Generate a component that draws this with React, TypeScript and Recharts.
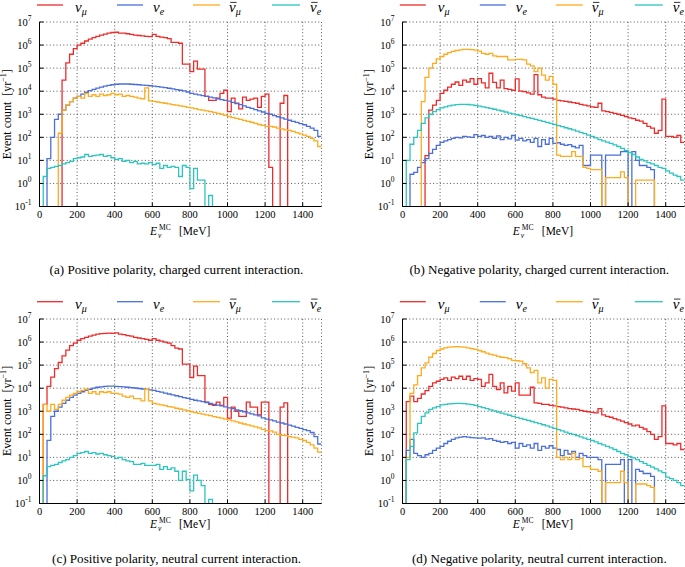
import React from 'react';
import { LineChart, Line, XAxis, YAxis, CartesianGrid } from 'recharts';

// Bin edges (MeV), 20 MeV bins from 0 to 1500
const BIN_EDGES = [
  0, 20, 40, 60, 80, 100, 120, 140, 160, 180, 200, 220, 240, 260, 280, 300, 320, 340, 360, 380,
  400, 420, 440, 460, 480, 500, 520, 540, 560, 580, 600, 620, 640, 660, 680, 700, 720, 740, 760, 780,
  800, 820, 840, 860, 880, 900, 920, 940, 960, 980, 1000, 1020, 1040, 1060, 1080, 1100, 1120, 1140, 1160, 1180,
  1200, 1220, 1240, 1260, 1280, 1300, 1320, 1340, 1360, 1380, 1400, 1420, 1440, 1460, 1480, 1500,
];
const X_TICKS = [0, 200, 400, 600, 800, 1000, 1200, 1400];
const Y_TICKS = [0.1, 1, 10, 100, 1e3, 1e4, 1e5, 1e6, 1e7];

// (a) Positive polarity, CC
const A_NU_MU = [
  0, 0, 0, 0, 0, 0, 3e4, 1.7e5, 4e5, 7e5,
  1e6, 1.2e6, 1.5e6, 1.8e6, 2.1e6, 2.4e6, 2.7e6, 3e6, 3.3e6, 3.5e6,
  3.6e6, 3.3e6, 3.3e6, 3.1e6, 2.9e6, 2.7e6, 2.6e6, 2.5e6, 2.4e6, 2.3e6,
  2.9e6, 2.4e6, 2.2e6, 2.1e6, 1.9e6, 1.3e6, 1.3e6, 1.2e6, 1.5e5, 1.5e5,
  7e4, 2e5, 9e4, 9e4, 6e3, 4e3, 4e3, 5e3, 8e3, 1.1e4,
  1.3e3, 5e3, 3e3, 1.7e3, 5.5e3, 4e3, 4.5e3, 5e3, 2e3, 6e3,
  7.5e3, 5, 0, 0, 3e3, 6.5e3, 0, 0, 0, 0,
  0, 0, 0, 0, 0,
];
const A_NU_E = [
  0, 0, 12, 100, 600, 1e3, 1.5e3, 2.5e3, 3.5e3, 5e3,
  6e3, 7.5e3, 9e3, 1.05e4, 1.2e4, 1.35e4, 1.5e4, 1.65e4, 1.8e4, 1.9e4,
  2e4, 2.05e4, 2.05e4, 2.05e4, 2e4, 1.95e4, 1.9e4, 1.85e4, 1.8e4, 1.72e4,
  1.65e4, 1.57e4, 1.5e4, 1.42e4, 1.34e4, 1.26e4, 1.18e4, 1.1e4, 1.03e4, 9.2e3,
  8e3, 7.4e3, 6.9e3, 6.4e3, 5.9e3, 5.5e3, 5.1e3, 4.7e3, 4.3e3, 4e3,
  3.7e3, 3.3e3, 2.9e3, 2.6e3, 2.3e3, 2e3, 1.8e3, 1.6e3, 1.4e3, 1.25e3,
  1.1e3, 1e3, 880, 780, 700, 620, 550, 490, 440, 390,
  350, 300, 250, 200, 110,
];
const A_NU_MU_BAR = [
  0, 0, 0, 0, 0, 150, 1.5e3, 2.5e3, 3.5e3, 5e3,
  6e3, 5e3, 8e3, 6e3, 7e3, 6e3, 7.5e3, 6.5e3, 7e3, 8e3,
  7e3, 7.5e3, 6e3, 6.5e3, 6e3, 5.5e3, 5e3, 4.7e3, 1.4e4, 3.8e3,
  3.6e3, 3.4e3, 3.2e3, 3e3, 2.8e3, 2.6e3, 2.5e3, 2.3e3, 2.2e3, 2e3,
  1.9e3, 1.75e3, 1.6e3, 1.5e3, 1.4e3, 1.3e3, 1.2e3, 1.1e3, 1e3, 900,
  800, 720, 660, 600, 540, 490, 450, 400, 360, 330,
  300, 300, 280, 250, 230, 210, 200, 180, 160, 140,
  125, 110, 90, 70, 40,
];
const A_NU_E_BAR = [
  0, 2, 4.5, 5, 5.5, 6, 7, 8, 9, 12,
  13, 14, 18, 15, 16, 17, 18, 15, 16, 13,
  11, 12, 9, 10, 8, 9, 7, 7.5, 7, 8,
  6.5, 7.5, 4.5, 6, 5, 5.5, 5, 2, 6, 5,
  0.6, 4.5, 1.4, 1.4, 0, 0.3, 0, 0, 0, 0,
  0, 0, 0, 0, 0, 0, 0, 0, 0, 0,
  0, 0, 0, 0, 0, 0, 0, 0, 0, 0,
  0, 0, 0, 0, 0,
];

// (b) Negative polarity, CC
const B_NU_MU = [
  0, 0, 0, 0, 0, 0, 16, 1.5e3, 2.5e3, 4e3,
  8e3, 1.1e4, 1.5e4, 2e4, 2.5e4, 1.8e4, 3e4, 2.5e4, 3.5e4, 2e4,
  3.5e4, 2.3e4, 1.4e4, 6e4, 2.4e4, 1.4e4, 3e4, 1.3e4, 1.2e4, 1.1e4,
  3.4e4, 1e4, 9.5e3, 8.5e3, 7.5e3, 5.2e4, 7e3, 5.5e3, 5e3, 5e3,
  4.5e3, 4e3, 3.8e3, 3.6e3, 3.4e3, 3.2e3, 3e3, 2.7e3, 2.5e3, 2.3e3,
  2.1e3, 2e3, 3e3, 1.4e3, 1.3e3, 1.2e3, 1.1e3, 1e3, 900, 800,
  700, 650, 550, 500, 400, 300, 250, 150, 200, 4.5e3,
  110, 110, 100, 120, 60,
];
const B_NU_E = [
  0, 0, 2.5, 3, 5, 8, 12, 20, 30, 45,
  60, 70, 80, 90, 100, 95, 110, 105, 100, 130,
  110, 120, 100, 110, 90, 115, 80, 100, 85, 120,
  75, 90, 70, 80, 60, 90, 40, 80, 50, 90,
  55, 58, 50, 45, 48, 40, 35, 45, 6, 6,
  17, 17, 17, 0, 17, 17, 17, 17, 24, 24,
  0, 24, 10, 6, 6, 5, 4, 0, 0, 0,
  0, 0, 0, 0, 0,
];
const B_NU_MU_BAR = [
  0, 0, 0, 0, 0, 3.5e3, 4e4, 1e5, 1.6e5, 2.5e5,
  3.2e5, 4e5, 4.7e5, 5.3e5, 5.8e5, 6.2e5, 6.5e5, 6.5e5, 6.3e5, 6e5,
  5.5e5, 4.4e5, 4e5, 4.4e5, 3.4e5, 3.2e5, 3.2e5, 3.2e5, 2.3e5, 2.3e5,
  2.4e5, 2.4e5, 2.3e5, 1.5e5, 1.25e5, 7e4, 1e5, 5e4, 3e4, 4.4e4,
  2e4, 17, 15, 15, 15, 24, 15, 15, 5, 4.5,
  4, 4, 4, 0, 1.8, 1.8, 1.8, 1.8, 3.2, 1.8,
  0, 0, 1.4, 1.4, 1.4, 1.4, 1.4, 0, 0, 0,
  0, 0, 0, 0, 0,
];
const B_NU_E_BAR = [
  0, 10, 50, 100, 200, 400, 700, 1e3, 1.3e3, 1.6e3,
  1.9e3, 2.1e3, 2.3e3, 2.5e3, 2.6e3, 2.7e3, 2.7e3, 2.65e3, 2.55e3, 2.4e3,
  2.25e3, 2.1e3, 1.95e3, 1.8e3, 1.65e3, 1.5e3, 1.38e3, 1.25e3, 1.13e3, 1.03e3,
  950, 870, 790, 720, 660, 600, 540, 490, 440, 400,
  360, 320, 290, 260, 235, 210, 185, 165, 145, 125,
  110, 95, 80, 70, 62, 55, 47, 40, 33, 27,
  22, 18, 14, 11, 9.5, 8, 7, 6, 5, 4.5,
  3.5, 2.8, 2.3, 2, 1.4,
];

// (c) Positive polarity, NC
const C_NU_MU = [
  0, 2e3, 1.2e4, 3e4, 7e4, 1.3e5, 2.5e5, 4.5e5, 7e5, 9e5,
  1.2e6, 1.4e6, 1.6e6, 1.8e6, 2e6, 2.2e6, 2.3e6, 2.4e6, 2.45e6, 2.4e6,
  2.5e6, 2.2e6, 2.1e6, 1.9e6, 1.8e6, 1.6e6, 1.5e6, 1.4e6, 1.3e6, 1.2e6,
  1.4e6, 1.2e6, 1.1e6, 1e6, 9e5, 7e5, 5.5e5, 5e5, 1.1e5, 1.1e5,
  2.9e4, 9e4, 3.5e4, 3.5e4, 2.5e3, 2e3, 1.8e3, 2.5e3, 1.8e3, 4e3,
  500, 1.5e3, 1e3, 600, 600, 2.5e3, 1.5e3, 1.5e3, 700, 2.5e3,
  2.5e3, 0, 0, 0, 1.5e3, 2.3e3, 0, 0, 0, 0,
  0, 0, 0, 0, 0,
];
const C_NU_E = [
  0, 0, 55, 600, 1e3, 1.5e3, 2.2e3, 3e3, 4e3, 5e3,
  6e3, 7e3, 8e3, 9e3, 1e4, 1.1e4, 1.15e4, 1.2e4, 1.22e4, 1.22e4,
  1.2e4, 1.18e4, 1.15e4, 1.1e4, 1.06e4, 1.02e4, 9.7e3, 9.2e3, 8.8e3, 8.4e3,
  8e3, 7.3e3, 6.7e3, 6.1e3, 5.6e3, 5.1e3, 4.7e3, 4.3e3, 3.9e3, 3.6e3,
  3.3e3, 3e3, 2.8e3, 2.6e3, 2.4e3, 2.2e3, 2e3, 1.85e3, 1.7e3, 1.55e3,
  1.4e3, 1.3e3, 1.15e3, 1.05e3, 950, 850, 770, 700, 630, 520,
  460, 420, 380, 340, 310, 280, 250, 225, 200, 180,
  160, 145, 120, 80, 38,
];
const C_NU_MU_BAR = [
  0, 2e3, 1e3, 2e3, 1.2e3, 2e3, 3e3, 4e3, 5e3, 6e3,
  7e3, 8e3, 9e3, 6e3, 7e3, 5.5e3, 7e3, 6.5e3, 7e3, 6e3,
  6e3, 5.5e3, 4.5e3, 4e3, 4.5e3, 3.5e3, 3.5e3, 2.8e3, 9e3, 2.8e3,
  2.2e3, 2.05e3, 1.9e3, 1.75e3, 1.6e3, 1.5e3, 1.35e3, 1.25e3, 1.15e3, 1.05e3,
  950, 880, 810, 750, 690, 640, 590, 540, 500, 460,
  420, 380, 345, 310, 280, 255, 230, 210, 190, 165,
  145, 140, 125, 100, 90, 87, 80, 75, 70, 60,
  54, 45, 35, 25, 17,
];
const C_NU_E_BAR = [
  0, 1.6, 4, 4.5, 5, 6, 7, 8, 10, 12,
  15, 16, 18, 15, 16, 14, 15, 13, 12, 11,
  9, 10, 8, 7, 6.5, 5, 5, 5.5, 4.5, 4.5,
  4.5, 5, 3, 4, 3, 3.5, 2.5, 1, 2.5, 1.1,
  0.35, 1.7, 1, 0.6, 0, 0.15, 0, 0, 0, 0,
  0, 0, 0, 0, 0, 0, 0, 0, 0, 0,
  0, 0, 0, 0, 0, 0, 0, 0, 0, 0,
  0, 0, 0, 0, 0,
];

// (d) Negative polarity, NC
const D_NU_MU = [
  0, 2.6e3, 4.5e3, 2.6e3, 3.6e3, 5.6e3, 7.9e3, 1.2e4, 1.7e4, 2e4,
  2.4e4, 2.8e4, 2.2e4, 3e4, 2.6e4, 3.3e4, 2.4e4, 3.3e4, 2.2e4, 2.6e4,
  2.4e4, 1.2e4, 1.7e4, 4e4, 1.2e4, 8.7e3, 1.7e4, 6.3e3, 1.2e4, 7.4e3,
  1.7e4, 5e3, 5e3, 5e3, 1.1e4, 2.3e3, 2.2e3, 2e3, 2e3, 1.8e3,
  1.7e3, 1.6e3, 1.5e3, 1.4e3, 1.3e3, 1.25e3, 1.2e3, 1.1e3, 1e3, 950,
  900, 850, 1.3e3, 700, 600, 550, 480, 420, 370, 320,
  280, 230, 250, 200, 170, 130, 100, 60, 80, 1.7e3,
  40, 40, 35, 40, 22,
];
const D_NU_E = [
  0, 20, 60, 15, 12, 10, 13, 15, 20, 25,
  30, 40, 50, 60, 70, 75, 80, 75, 72, 70,
  68, 70, 62, 65, 55, 50, 45, 48, 40, 45,
  25, 40, 30, 35, 25, 40, 20, 30, 25, 32,
  25, 22, 12, 20, 14, 18, 10, 15, 12, 10,
  10, 10, 8, 0, 5, 5, 5, 5, 8, 0,
  8, 0, 3, 2.5, 2, 2, 1.5, 0, 0, 0,
  0, 0, 0, 0, 0,
];
const D_NU_MU_BAR = [
  0, 10, 6e3, 1.4e4, 3.5e4, 7.6e4, 1.26e5, 2.2e5, 3.2e5, 4.3e5,
  5e5, 5.6e5, 6e5, 6.2e5, 6.3e5, 6.2e5, 6e5, 5.6e5, 5.2e5, 4.8e5,
  4.3e5, 3.8e5, 3.3e5, 2.9e5, 2.7e5, 2.4e5, 2.2e5, 2.1e5, 1.9e5, 1.6e5,
  1.55e5, 1.5e5, 1.15e5, 7.6e4, 4.7e4, 5.9e4, 1.7e4, 2.8e4, 1e4, 2.4e4,
  2.2e4, 10, 8, 10, 8, 15, 8, 9, 4, 4,
  3, 3, 2.5, 0, 0.8, 0.8, 0.8, 0.8, 2.5, 0.8,
  0, 0, 0.7, 0.7, 0.7, 0.6, 0.5, 0, 0, 0,
  0, 0, 0, 0, 0,
];
const D_NU_E_BAR = [
  0, 8, 30, 115, 300, 600, 850, 1.2e3, 1.4e3, 1.6e3,
  1.9e3, 2e3, 2.1e3, 2.15e3, 2.2e3, 2.2e3, 2.15e3, 2.05e3, 1.95e3, 1.8e3,
  1.6e3, 1.45e3, 1.3e3, 1.15e3, 1.03e3, 930, 830, 750, 670, 600,
  540, 490, 440, 400, 360, 320, 290, 260, 230, 205,
  180, 160, 140, 125, 110, 100, 88, 78, 68, 60,
  54, 47, 40, 35, 30, 26, 22, 18, 15, 13,
  11, 9.5, 8, 6.5, 5.5, 4.5, 3.8, 3.2, 2.6, 2.2,
  1.4, 1.2, 1, 0.8, 0.6,
];

const CAPTIONS = [
  '(a) Positive polarity, charged current interaction.',
  '(b) Negative polarity, charged current interaction.',
  '(c) Positive polarity, neutral current interaction.',
  '(d) Negative polarity, neutral current interaction.',
];

const COLORS = ['#ee2b2b', '#4a6fdc', '#ffab1e', '#2cc5bf'];
const FONT = '"Liberation Serif", "DejaVu Serif", serif';
const FLOOR = 1e-3; // empty bins are drawn below the axis floor and clipped

function buildRows(series: number[][]) {
  return BIN_EDGES.map((x, i) => {
    const row: Record<string, number> = { x };
    series.forEach((s, k) => {
      const v = i < s.length ? s[i] : s[s.length - 1];
      row['s' + k] = v > 0 ? v : FLOOR;
    });
    return row;
  });
}

const YTick = (props: any) => {
  const { x, y, payload } = props;
  const e = Math.round(Math.log10(payload.value));
  return (
    <text x={x} y={y} textAnchor="end" fontFamily={FONT} fontSize={10.5} fill="#000">
      <tspan dy="0.36em">10</tspan>
      <tspan dy={-5} fontSize={7.5}>{String(e)}</tspan>
    </text>
  );
};

const PLOT_LEFT = 39.5;
const PLOT_TOP = 22;

function Panel({ left, top, series }: { left: number; top: number; series: number[][] }) {
  const rows = buildRows(series);
  return (
    <div style={{ position: 'absolute', left, top }}>
      <LineChart width={330} height={240} data={rows} margin={{ top: PLOT_TOP, right: 8.5, bottom: 3.5, left: 0 }}>
        <CartesianGrid stroke="#444" strokeDasharray="1 2.4" strokeWidth={0.9} />
        <XAxis
          dataKey="x"
          type="number"
          domain={[0, 1500]}
          ticks={X_TICKS}
          interval={0}
          allowDataOverflow
          height={30}
          stroke="#000"
          tickSize={-4}
          tickMargin={8.5}
          tick={{ fontFamily: FONT, fontSize: 10.5, fill: '#000' }}
        />
        <XAxis
          xAxisId="top"
          orientation="top"
          dataKey="x"
          type="number"
          domain={[0, 1500]}
          ticks={X_TICKS}
          interval={0}
          height={0}
          stroke="#000"
          tickSize={-4}
          tick={false}
        />
        <YAxis
          scale="log"
          domain={[0.1, 1e7]}
          ticks={Y_TICKS}
          interval={0}
          allowDataOverflow
          width={PLOT_LEFT}
          stroke="#000"
          tickSize={-4}
          tickMargin={12}
          tick={<YTick />}
        />
        <YAxis
          yAxisId="right"
          orientation="right"
          scale="log"
          domain={[0.1, 1e7]}
          ticks={Y_TICKS}
          interval={0}
          allowDataOverflow
          width={0}
          stroke="#000"
          tickSize={-4}
          tick={false}
        />
        {series.map((_, k) => (
          <Line
            key={k}
            dataKey={'s' + k}
            type="stepAfter"
            stroke={COLORS[k]}
            strokeWidth={1.3}
            dot={false}
            activeDot={false}
            isAnimationActive={false}
          />
        ))}
      </LineChart>
    </div>
  );
}

function NuLabel({ x, y, sub, bar }: { x: number; y: number; sub: string; bar: boolean }) {
  return (
    <g>
      <text x={x} y={y} fontFamily={FONT} fontStyle="italic" fontSize={15} fill="#000">
        ν<tspan dy={3} fontSize={10}>{sub}</tspan>
      </text>
      {bar && <line x1={x + 1.2} x2={x + 7.6} y1={y - 9.4} y2={y - 9.4} stroke="#000" strokeWidth={0.8} />}
    </g>
  );
}

const LEGEND_ITEMS = [
  { x1: 37, x2: 63, lx: 75, sub: 'μ', bar: false },
  { x1: 117, x2: 143, lx: 153, sub: 'e', bar: false },
  { x1: 193, x2: 220, lx: 229, sub: 'μ', bar: true },
  { x1: 272, x2: 300, lx: 310, sub: 'e', bar: true },
];

function Decorations({ dx, dy, caption, captionY }: { dx: number; dy: number; caption: string; captionY: number }) {
  const lineY = 5 + dy;
  const plotCenterY = PLOT_TOP + dy + 92.25;
  const plotCenterX = PLOT_LEFT + dx + 141;
  const xlabY = 235 + dy - (dy > 0 ? 3.5 : 0);
  return (
    <g>
      {LEGEND_ITEMS.map((it, k) => (
        <g key={k}>
          <line x1={it.x1 + dx} x2={it.x2 + dx} y1={lineY} y2={lineY} stroke={COLORS[k]} strokeWidth={1.3} />
          <NuLabel x={it.lx + dx} y={lineY + 6.8} sub={it.sub} bar={it.bar} />
        </g>
      ))}
      <text
        transform={`translate(${10.5 + dx},${plotCenterY}) rotate(-90)`}
        textAnchor="middle"
        fontFamily={FONT}
        fontSize={12}
        fill="#000"
      >
        Event count{'\u00a0\u00a0'}[yr<tspan dy={-4.5} fontSize={8}>−1</tspan>
        <tspan dy={4.5}>]</tspan>
      </text>
      <text x={plotCenterX - 30.5} y={xlabY} fontFamily={FONT} fontStyle="italic" fontSize={11.5} fill="#000">E</text>
      <text x={plotCenterX - 22.5} y={xlabY + 2.8} fontFamily={FONT} fontStyle="italic" fontSize={7.5} fill="#000">ν</text>
      <text x={plotCenterX - 21.5} y={xlabY - 5} fontFamily={FONT} fontSize={7.5} fill="#000">MC</text>
      <text x={plotCenterX - 1.5} y={xlabY} fontFamily={FONT} fontSize={11.5} fill="#000">[MeV]</text>
      <text x={plotCenterX - 4} y={captionY} textAnchor="middle" fontFamily={FONT} fontSize={13.1} fill="#000">
        {caption}
      </text>
    </g>
  );
}

export default function App() {
  const DX = 362.8;
  const DY = 297.3;
  return (
    <div
      style={{
        position: 'absolute',
        left: 0,
        top: 0,
        width: 685,
        height: 567,
        overflow: 'hidden',
        background: '#fff',
      }}
    >
      <Panel left={0} top={0} series={[A_NU_MU, A_NU_E, A_NU_MU_BAR, A_NU_E_BAR]} />
      <Panel left={DX} top={0} series={[B_NU_MU, B_NU_E, B_NU_MU_BAR, B_NU_E_BAR]} />
      <Panel left={0} top={DY} series={[C_NU_MU, C_NU_E, C_NU_MU_BAR, C_NU_E_BAR]} />
      <Panel left={DX} top={DY} series={[D_NU_MU, D_NU_E, D_NU_MU_BAR, D_NU_E_BAR]} />
      <svg width={685} height={567} style={{ position: 'absolute', left: 0, top: 0, pointerEvents: 'none' }}>
        <Decorations dx={0} dy={0} caption={CAPTIONS[0]} captionY={274} />
        <Decorations dx={DX} dy={0} caption={CAPTIONS[1]} captionY={274} />
        <Decorations dx={0} dy={DY - 0.6} caption={CAPTIONS[2]} captionY={563} />
        <Decorations dx={DX} dy={DY - 0.6} caption={CAPTIONS[3]} captionY={563} />
      </svg>
    </div>
  );
}
